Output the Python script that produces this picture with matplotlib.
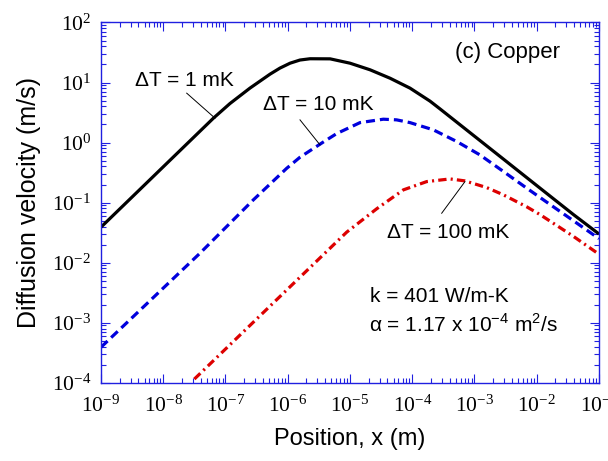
import numpy as np
import matplotlib
matplotlib.use("Agg")
import matplotlib.pyplot as plt
from matplotlib.ticker import LogLocator, NullFormatter

# data (position in m, velocity in m/s)
x_1mK = [1.0e-9, 6.4e-8, 1.18e-7, 2.47e-7, 5.2e-7, 7.5e-7, 1.09e-6, 1.57e-6, 2.28e-6,
         4.8e-6, 1.0e-5, 2.1e-5, 4.4e-5, 9.2e-5, 1.93e-4, 2.8e-4, 9.6e-4, 3.3e-3,
         1.13e-2, 3.9e-2, 1.0e-1]
v_1mK = [0.039, 2.55, 4.47, 8.07, 13.8, 17.4, 21.0, 23.7, 24.9,
         24.8, 21.0, 16.3, 11.8, 8.07, 4.9, 3.63, 1.32, 0.479,
         0.174, 0.063, 0.030]

x_10mK = [1.0e-9, 3.89e-8, 2.8e-7, 9.6e-7, 1.57e-6, 3.72e-6, 6.1e-6, 1.45e-5, 3.43e-5,
          5.6e-5, 9.2e-5, 2.18e-4, 5.2e-4, 1.22e-3, 2.9e-3, 6.9e-3, 1.63e-2, 3.86e-2,
          1.0e-1]
v_10mK = [3.9e-4, 0.01436, 0.111, 0.372, 0.569, 1.02, 1.41, 2.15, 2.45,
          2.39, 2.15, 1.63, 1.04, 0.624, 0.331, 0.174, 0.0933, 0.0501,
          0.0251]

x_100mK = [3.16e-8, 8.85e-6, 2.69e-5, 7.2e-5, 1.71e-4, 4.04e-4, 7.03e-4, 1.57e-3,
           2.9e-3, 6.9e-3, 1.13e-2, 3.86e-2, 1.0e-1]
v_100mK = [1.15e-4, 0.0322, 0.0790, 0.163, 0.224, 0.248, 0.230, 0.178,
           0.135, 0.0851, 0.0631, 0.0275, 0.0138]

plt.rcParams['font.family'] = ['Liberation Sans', 'DejaVu Sans']
plt.rcParams['lines.scale_dashes'] = False

fig = plt.figure(figsize=(6.08, 4.61), dpi=100)
ax = fig.add_axes([0.1661, 0.1698, 0.8191, 0.7814])

ax.plot(x_1mK, v_1mK, color='black', lw=2.3, solid_capstyle='butt',
        solid_joinstyle='round')
ax.plot(x_10mK, v_10mK, color='#0000dd', lw=2.3, linestyle=(0, (6.5, 3.6)),
        dash_capstyle='butt')
ax.plot(x_100mK, v_100mK, color='#dd0000', lw=2.3, linestyle=(0, (6, 3, 1.5, 3)),
        dash_capstyle='butt')

ax.set_xscale('log')
ax.set_yscale('log')
ax.set_xlim(1e-9, 1e-1)
ax.set_ylim(1e-4, 1e2)

ax.xaxis.set_major_locator(LogLocator(base=10, numticks=20))
ax.yaxis.set_major_locator(LogLocator(base=10, numticks=20))
ax.xaxis.set_minor_locator(LogLocator(base=10, subs=np.arange(2, 10), numticks=200))
ax.yaxis.set_minor_locator(LogLocator(base=10, subs=np.arange(2, 10), numticks=200))
ax.xaxis.set_minor_formatter(NullFormatter())
ax.yaxis.set_minor_formatter(NullFormatter())

for sp in ax.spines.values():
    sp.set_color('#2020e0')
    sp.set_linewidth(1.0)
ax.tick_params(which='both', direction='in', top=True, right=True,
               color='#2020e0', labelcolor='black', labelsize=15.5,
               labelfontfamily='Liberation Serif')
ax.tick_params(which='major', length=6.5, width=0.8)
ax.tick_params(which='minor', length=3.6, width=0.8)
ax.tick_params(axis='x', which='major', pad=9)
ax.tick_params(axis='y', which='major', pad=7)

ax.set_xlabel('Position, x (m)', fontsize=17, labelpad=8)
ax.set_ylabel('Diffusion velocity (m/s)', fontsize=18, labelpad=8)

# labels with leader lines
ax.text(0.1667, 0.8403, 'ΔT = 1 mK', transform=ax.transAxes, fontsize=15,
        ha='center', va='center')
ax.plot([10**-7.623, 10**-7.169], [10**0.823, 10**0.407], color='black', lw=0.7)
ax.text(0.4357, 0.7713, 'ΔT = 10 mK', transform=ax.transAxes, fontsize=15,
        ha='center', va='center')
ax.plot([10**-5.803, 10**-5.482], [10**0.378, 10**-0.038], color='black', lw=0.7)
ax.text(0.6968, 0.4159, 'ΔT = 100 mK', transform=ax.transAxes, fontsize=15,
        ha='center', va='center')
ax.plot([10**-3.527, 10**-3.153], [10**-1.177, 10**-0.65], color='black', lw=0.7)

ax.text(0.8153, 0.9158, '(c) Copper', transform=ax.transAxes, fontsize=16,
        ha='center', va='center')
ax.text(0.6787, 0.2381, 'k = 401 W/m-K', transform=ax.transAxes, fontsize=15,
        ha='center', va='center')
ax.text(0.7269, 0.1603, r'α = 1.17 x 10$^{\mathdefault{-4}}$ m$^{\mathdefault{2}}$/s',
        transform=ax.transAxes, fontsize=15, ha='center', va='center')

fig.savefig('out.png', dpi=100)
